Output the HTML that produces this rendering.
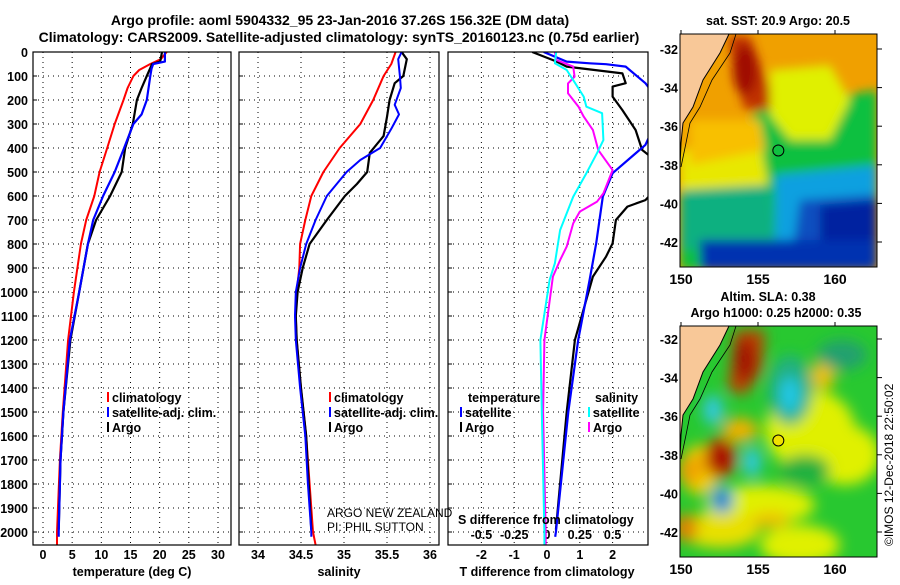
<!DOCTYPE html>
<html><head><meta charset="utf-8"><style>
body{margin:0;background:#fff;}
svg text{font-family:"Liberation Sans",Arial,sans-serif;font-weight:bold;font-size:12.5px;fill:#000;}
</style></head><body>
<svg id="c" width="900" height="580" viewBox="0 0 900 580" xmlns="http://www.w3.org/2000/svg">
<defs>
<filter id="bl" x="-20%" y="-20%" width="140%" height="140%"><feGaussianBlur stdDeviation="5"/></filter>
<filter id="bl2" x="-30%" y="-30%" width="160%" height="160%"><feGaussianBlur stdDeviation="7"/></filter>
<clipPath id="cp1"><rect x="33" y="52" width="198" height="493"/></clipPath>
<clipPath id="cp2"><rect x="239" y="52" width="200" height="493"/></clipPath>
<clipPath id="cp3"><rect x="448" y="52" width="200" height="493"/></clipPath>
<clipPath id="cm1"><rect x="680" y="34" width="197" height="233"/></clipPath>
<clipPath id="cm2"><rect x="680" y="326" width="197" height="231"/></clipPath>
</defs>
<text x="340" y="25" text-anchor="middle" style="font-size:14px">Argo profile: aoml 5904332_95 23-Jan-2016 37.26S 156.32E (DM data)</text>
<text x="339" y="42" text-anchor="middle" style="font-size:14px">Climatology: CARS2009. Satellite-adjusted climatology: synTS_20160123.nc (0.75d earlier)</text>
<text x="778" y="25" text-anchor="middle">sat. SST: 20.9 Argo: 20.5</text>
<text x="768" y="301" text-anchor="middle">Altim. SLA: 0.38</text>
<text x="776" y="317" text-anchor="middle">Argo h1000: 0.25 h2000: 0.35</text>
<text transform="translate(893,546) rotate(-90)" style="font-weight:normal;font-size:12px">©IMOS 12-Dec-2018 22:50:02</text>
<text x="327" y="517" style="font-weight:normal;font-size:12px">ARGO NEW ZEALAND</text>
<text x="327" y="531" style="font-weight:normal;font-size:12px">PI: PHIL SUTTON</text>
</svg>
<script>
// depth grid
const depthTicks=[0,100,200,300,400,500,600,700,800,900,1000,1100,1200,1300,1400,1500,1600,1700,1800,1900,2000];
// temperature panel
const tTicks=[0,5,10,15,20,25,30];
const tClimDepth=[0,30,50,75,100,150,200,300,400,500,600,700,800,1000,1200,1500,1700,2000,2054];
const tClim=[21.2,20.2,18.4,16.5,15.5,14.5,13.8,12.3,11.0,9.7,8.8,7.4,6.5,5.3,4.3,3.4,2.9,2.4,2.4];
const tSatDepth=[0,40,50,70,100,200,260,300,400,500,600,700,800,1000,1200,1500,1700,2000,2020];
const tSat=[20.9,20.9,18.9,18.6,18.4,17.8,16.9,15.5,13.9,12.3,10.3,8.6,7.7,6.2,4.6,3.5,3.0,2.7,2.7];
const tArgoDepth=[0,40,50,100,150,200,300,400,500,600,700,800,1000,1200,1500,1700,1990];
const tArgo=[20.4,20.1,18.7,17.8,16.9,16.1,15.4,14.1,13.5,11.5,9.1,7.7,6.2,4.7,3.5,3.0,2.7];
// salinity panel
const sTicks=[34,34.5,35,35.5,36];
const sTickLabels=["34","34.5","35","35.5","36"];
const sClimDepth=[0,50,100,200,300,400,500,600,700,800,900,1000,1100,1200,1400,1600,1800,2000,2054];
const sClim=[35.60,35.55,35.46,35.34,35.19,34.95,34.76,34.62,34.55,34.49,34.48,34.45,34.44,34.45,34.50,34.56,34.60,34.64,34.67];
const sSatDepth=[0,30,100,150,220,260,320,400,450,500,600,700,800,900,1000,1100,1200,1400,1600,1800,2000,2020];
const sSat=[35.67,35.63,35.65,35.66,35.59,35.64,35.55,35.42,35.19,35.03,34.80,34.67,34.56,34.49,34.44,34.43,34.44,34.49,34.55,34.58,34.62,34.62];
const sArgoDepth=[0,30,100,130,200,270,350,420,500,550,600,700,800,900,1000,1100,1200,1400,1600,1800,1990];
const sArgo=[35.67,35.73,35.69,35.59,35.53,35.50,35.46,35.30,35.27,35.15,35.01,34.80,34.60,34.52,34.46,34.44,34.45,34.50,34.56,34.59,34.62];
// difference panel
const dTicks=[-2,-1,0,1,2];
const dsTicks=[-0.5,-0.25,0,0.25,0.5];
const dsTickLabels=["-0.5","-0.25","0","0.25","0.5"];
const dtSatDepth=[0,40,47,51,61,130,200,300,387,505,603,797,950,1200,1500,2000,2020];
const dtSat=[-0.1,0.6,1.3,1.8,2.4,3.0,3.4,3.3,3.0,2.0,1.7,1.5,1.3,0.95,0.65,0.27,0.25];
const dtArgoDepth=[0,40,61,89,130,144,186,242,325,408,430,500,560,617,644,700,797,853,936,1200,1500,1990];
const dtArgo=[-0.45,0.3,0.6,2.3,2.4,2.0,2.0,2.3,2.7,2.9,3.1,3.4,3.4,3.0,2.45,2.1,2.0,1.8,1.4,0.85,0.6,0.27];
const dsArgoDepth=[0,33,61,103,131,172,228,269,325,408,492,589,624,665,714,811,867,936,1200,1500,2000,2054];
const dsArgo=[0.06,0.07,0.2,0.21,0.16,0.16,0.24,0.28,0.35,0.39,0.5,0.43,0.38,0.25,0.2,0.15,0.1,0.045,-0.02,-0.03,-0.01,-0.01];
const dsSatDepth=[0,47,75,117,186,228,255,367,422,505,603,742,880,950,1200,1500,2000,2054];
const dsSat=[0.07,0.06,0.15,0.2,0.28,0.3,0.42,0.43,0.38,0.3,0.2,0.1,0.06,0.02,-0.05,-0.04,-0.02,-0.02];
// maps
const mapLonTicks=[150,155,160];
const mapLatTicks=[-32,-34,-36,-38,-40,-42];
const argoLon=156.32, argoLat=-37.26;

const NS='http://www.w3.org/2000/svg';
const svg=document.getElementById('c');
function mk(tag,attrs,parent){const e=document.createElementNS(NS,tag);for(const k in attrs)e.setAttribute(k,attrs[k]);(parent||svg).appendChild(e);return e;}
const yD=d=>52+0.24*d;
const xT=t=>43+5.833*t;
const xS=s=>258+86*(s-34);
const xDT=v=>547+32.8*v;
const xDS=v=>547+131.2*v;
const P=[{x0:33,x1:231},{x0:239,x1:439},{x0:448,x1:648}];

function gridLine(x1,y1,x2,y2,name){const l=mk('line',{x1,y1,x2,y2,stroke:'#000','stroke-width':1,'stroke-dasharray':'1,4'});

}

P.forEach((p,i)=>{
  depthTicks.forEach(d=>{gridLine(p.x0,yD(d),p.x1,yD(d),'depth-gridline');
    const t=mk('line',{x1:p.x0,y1:yD(d),x2:p.x0+4,y2:yD(d),stroke:'#000'});
    
    });
});
depthTicks.forEach(d=>{const t=mk('text',{x:28,y:yD(d)+5,'text-anchor':'end'});t.textContent=d;
  
  });
tTicks.forEach(v=>{gridLine(xT(v),52,xT(v),545,'temp-gridline');const t=mk('text',{x:xT(v),y:559,'text-anchor':'middle'});t.textContent=v;
  
  });
sTicks.forEach((v,i)=>{gridLine(xS(v),52,xS(v),545,'sal-gridline');const t=mk('text',{x:xS(v),y:559,'text-anchor':'middle'});t.textContent=sTickLabels[i];
  
  });
dTicks.forEach(v=>{gridLine(xDT(v),52,xDT(v),545,'tdiff-gridline');const t=mk('text',{x:xDT(v),y:559,'text-anchor':'middle'});t.textContent=v;
  
  });
dsTicks.forEach((v,i)=>{const t=mk('text',{x:xDS(v),y:539,'text-anchor':'middle'});t.textContent=dsTickLabels[i];
  
  });

function series(ds,vs,xf,color,w,clip,name){
  const pts=ds.map((d,i)=>xf(vs[i]).toFixed(1)+','+yD(d).toFixed(1)).join(' ');
  const l=mk('polyline',{points:pts,fill:'none',stroke:color,'stroke-width':w,'clip-path':'url(#'+clip+')','stroke-linejoin':'round'});
  
  
}
series(tClimDepth,tClim,xT,'#f00',2,'cp1','temp-climatology-line');
series(tArgoDepth,tArgo,xT,'#000',2.2,'cp1','temp-argo-line');
series(tSatDepth,tSat,xT,'#00f',2.2,'cp1','temp-satellite-line');
series(sClimDepth,sClim,xS,'#f00',2,'cp2','sal-climatology-line');
series(sArgoDepth,sArgo,xS,'#000',2.2,'cp2','sal-argo-line');
series(sSatDepth,sSat,xS,'#00f',2,'cp2','sal-satellite-line');
series(dtArgoDepth,dtArgo,xDT,'#000',2.2,'cp3','tdiff-argo-line');
series(dtSatDepth,dtSat,xDT,'#00f',2.2,'cp3','tdiff-satellite-line');
series(dsArgoDepth,dsArgo,xDS,'#f0f',2,'cp3','sdiff-argo-line');
series(dsSatDepth,dsSat,xDS,'#0ff',2,'cp3','sdiff-satellite-line');

P.forEach((p,i)=>{const r=mk('rect',{x:p.x0,y:52,width:p.x1-p.x0,height:493,fill:'none',stroke:'#000','stroke-width':1.2});
  
  });

function txt(x,y,s,name,extra){const t=mk('text',Object.assign({x,y},extra||{}));t.textContent=s;
  
  return t;}
txt(132,576,'temperature (deg C)','temp-axis-title',{'text-anchor':'middle'});
txt(339,576,'salinity','sal-axis-title',{'text-anchor':'middle'});
txt(547,576,'T difference from climatology','tdiff-axis-title',{'text-anchor':'middle'});
txt(458,524,'S difference from climatology','sdiff-axis-title');

function leg(x,y,color,label,name){
  const m=mk('line',{x1:x,y1:y-10,x2:x,y2:y,stroke:color,'stroke-width':2});
  
  
  txt(x+4,y,label,name);
}
leg(108,402,'#f00','climatology','legend-temp-climatology');
leg(108,417,'#00f','satellite-adj. clim.','legend-temp-satellite');
leg(108,432,'#000','Argo','legend-temp-argo');
leg(330,402,'#f00','climatology','legend-sal-climatology');
leg(330,417,'#00f','satellite-adj. clim.','legend-sal-satellite');
leg(330,432,'#000','Argo','legend-sal-argo');
txt(468,402,'temperature','legend-diff-temp-header');
leg(461,417,'#00f','satellite','legend-tdiff-satellite');
leg(461,432,'#000','Argo','legend-tdiff-argo');
txt(595,402,'salinity','legend-diff-sal-header');
leg(589,417,'#0ff','satellite','legend-sdiff-satellite');
leg(589,432,'#f0f','Argo','legend-sdiff-argo');

function mapBlobs(g,list){list.forEach(b=>{mk(b[0]==='e'?'ellipse':'polygon',b[0]==='e'?{cx:b[1],cy:b[2],rx:b[3],ry:b[4],fill:b[5]}:{points:b[1],fill:b[2]},g);});}
function drawMap(top,latTop,clip,bg,blobs,circleFill,name,filt){
  const xL=lon=>681+15.4*(lon-150);
  const yL=lat=>top+15+19.3*(-32-lat)+ (latTop);
  const g=mk('g',{'clip-path':'url(#'+clip+')'});
  
  
  mk('rect',{x:680,y:top,width:197,height:234,fill:bg},g);
  const gb=mk('g',{filter:'url(#'+filt+')'},g);
  mapBlobs(gb,blobs(top));
  const o=top-34;
  const coast=[[729,34],[720,53],[703,80],[693,107],[683,123],[681,143],[680,167]].map(p=>p[0]+','+(p[1]+o)).join(' ');
  mk('polygon',{points:'680,'+top+' '+coast+' 680,'+(167+o),fill:'#f8c898'},g);
  mk('polyline',{points:coast,fill:'none',stroke:'#000','stroke-width':1},g);
  mk('polyline',{points:[[736,34],[730,53],[712,80],[700,107],[690,123],[686,143],[681,167]].map(p=>p[0]+','+(p[1]+o)).join(' '),fill:'none',stroke:'#000','stroke-width':0.8},g);
  const c=mk('circle',{cx:xL(argoLon),cy:yL(argoLat),r:5.5,fill:circleFill,stroke:'#000','stroke-width':1});
  
  
  const f=mk('rect',{x:680,y:top,width:197,height:(clip==='cm1'?233:231),fill:'none',stroke:'#000','stroke-width':1});
  
  
  mapLatTicks.forEach(lat=>{const y=yL(lat);
    mk('line',{x1:877,y1:y,x2:882,y2:y,stroke:'#000'});
    txt(678,y+5,String(lat),'map-lat-label',{'text-anchor':'end'});});
  mapLonTicks.forEach(lon=>{const x=xL(lon);
    mk('line',{x1:x,y1:top,x2:x,y2:top-4,stroke:'#000'});
    txt(x,(clip==='cm1'?284:574),String(lon),'map-lon-label',{'text-anchor':'middle','style':'font-size:14px'});});
}
drawMap(34,0,'cm1','#f0a000',t=>[
  ['p','760,110 877,90 877,270 680,270 680,180','#10c040'],
  ['p','680,150 760,140 770,195 700,200 680,190','#e8e800'],
  ['p','770,70 830,65 850,100 830,140 790,140 770,115','#e0f000'],
  ['p','690,120 760,120 765,150 690,165','#f8c000'],
  ['p','728,36 750,36 770,90 770,110 745,110 735,80','#c03000'],
  ['e',745,70,12,25,'#a01000'],
  ['p','680,190 770,185 775,245 680,250','#10b080'],
  ['p','775,175 877,165 877,250 775,240','#10a0e0'],
  ['p','800,200 877,195 877,270 790,270','#1050c0'],
  ['p','820,205 877,200 877,270 820,270','#0020a0'],
  ['p','700,240 877,240 877,270 700,270','#0030b0']
],'#10c040','sst-map','bl');
drawMap(326,-2,'cm2','#28c830',t=>[
  ['e',760,505,55,20,'#e0f000'],['e',810,430,45,40,'#e0f000'],['e',700,470,20,25,'#f0d000'],
  ['e',845,455,35,30,'#e0f000'],['e',720,530,40,18,'#e8e000'],['e',800,545,40,20,'#e0f000'],
  ['e',740,430,18,12,'#f0b000'],['e',823,375,12,15,'#f0c000'],['e',686,528,12,14,'#e08000'],
  ['e',770,520,20,8,'#f0c000'],['e',690,470,12,15,'#f0a000'],
  ['p','735,330 765,330 762,370 745,395 728,390','#c04000'],['e',745,360,10,22,'#a01000'],
  ['e',720,458,16,20,'#d03000'],['e',720,458,10,13,'#a00000'],
  ['e',790,390,22,35,'#20b080'],['e',790,395,10,18,'#20c8e8'],
  ['e',713,410,10,15,'#30c8e0'],['e',752,462,9,15,'#30c8e0'],
  ['e',722,500,12,14,'#20b0e0'],['e',722,500,6,7,'#1040c0'],
  ['e',842,355,25,15,'#20a070'],['e',805,470,25,15,'#20b040']
],'#f0e000','sla-map','bl2');
</script>
</body></html>
